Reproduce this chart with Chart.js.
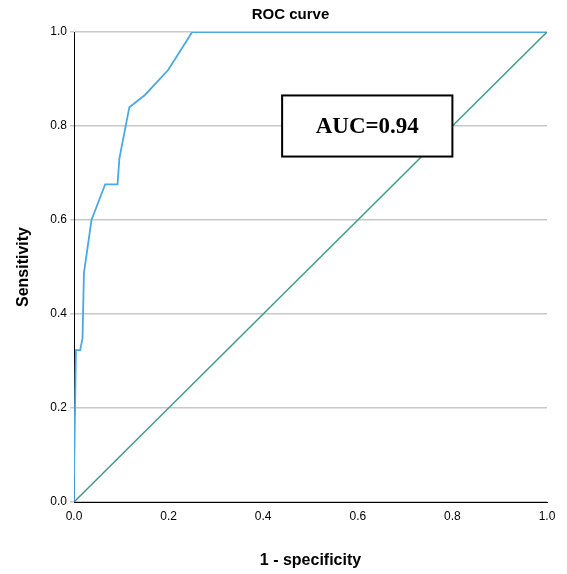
<!DOCTYPE html>
<html><head><meta charset="utf-8">
<script src="https://cdn.jsdelivr.net/npm/chart.js@4"></script>
<style>html,body{margin:0;padding:0;background:#fff}#w{width:567px;height:574px}</style>
</head><body><div id="w"><canvas id="c"></canvas></div>
<script>
const fpr = [0, 0, 0.004, 0.013, 0.018, 0.021, 0.037, 0.066, 0.092, 0.096, 0.117, 0.150, 0.199, 0.25, 1.0];
const tpr = [0, 0.05, 0.323, 0.323, 0.348, 0.487, 0.60, 0.676, 0.676, 0.731, 0.84, 0.866, 0.919, 1.0, 1.0];
const refX = [0, 1];
const refY = [0, 1];
const tickVals = [0, 0.2, 0.4, 0.6, 0.8, 1.0];
const aucLabel = "AUC=0.94";
const titleText = "ROC curve";

const overlay = {
  id: 'overlay',
  afterDraw(ch) {
    const c = ch.ctx, a = ch.chartArea;
    c.save();
    c.fillStyle = '#000';
    c.font = 'bold 15px "Liberation Sans", Arial, sans-serif';
    c.textAlign = 'center'; c.textBaseline = 'middle';
    c.fillText(titleText, (a.left + a.right) / 2 - 20, 15);
    const x = ch.scales.x, y = ch.scales.y;
    const x0 = x.getPixelForValue(0.44), x1 = x.getPixelForValue(0.80);
    const y0 = y.getPixelForValue(0.865), y1 = y.getPixelForValue(0.735);
    c.fillStyle = '#fff';
    c.fillRect(x0, y0, x1 - x0, y1 - y0);
    c.strokeStyle = '#000'; c.lineWidth = 2;
    c.strokeRect(x0, y0, x1 - x0, y1 - y0);
    c.fillStyle = '#000';
    c.font = 'bold 23px "Liberation Serif", "Times New Roman", serif';
    c.fillText(aucLabel, (x0 + x1) / 2, (y0 + y1) / 2 + 1);
    c.restore();
  }
};

new Chart(document.getElementById('c'), {
  type: 'scatter',
  data: {
    datasets: [
      { data: refX.map((v, i) => ({x: v, y: refY[i]})), showLine: true, borderColor: '#3f9a8c', borderWidth: 1.5, pointRadius: 0, tension: 0 },
      { data: fpr.map((v, i) => ({x: v, y: tpr[i]})), showLine: true, borderColor: '#4aa9e3', borderWidth: 1.8, pointRadius: 0, tension: 0 }
    ]
  },
  options: {
    responsive: true, maintainAspectRatio: false, animation: false,
    layout: { padding: { top: 32, right: 20, left: 10, bottom: 0 } },
    plugins: { legend: { display: false }, tooltip: { enabled: false } },
    scales: {
      x: {
        type: 'linear', min: 0, max: 1,
        afterBuildTicks: s => { s.ticks = tickVals.map(v => ({value: v})); },
        afterFit: s => { s.height = 72; },
        ticks: { color: '#000', font: { size: 12, family: 'Liberation Sans' }, callback: v => v.toFixed(1) },
        grid: { display: false, drawTicks: true, tickLength: 4 },
        border: { color: '#000', width: 1 },
        title: { display: true, text: '1 - specificity', color: '#000', font: { size: 16, weight: 'bold', family: 'Liberation Sans' }, padding: { top: 6 } }
      },
      y: {
        type: 'linear', min: 0, max: 1,
        afterBuildTicks: s => { s.ticks = tickVals.map(v => ({value: v})); },
        afterFit: s => { s.width = 64; },
        ticks: { color: '#000', font: { size: 12, family: 'Liberation Sans' }, callback: v => v.toFixed(1) },
        grid: { color: '#c8c8c8', lineWidth: 1.5, drawTicks: true, tickLength: 4 },
        border: { color: '#000', width: 1 },
        title: { display: true, text: 'Sensitivity', color: '#000', font: { size: 16, weight: 'bold', family: 'Liberation Sans' }, padding: { bottom: 4 } }
      }
    }
  },
  plugins: [overlay]
});
</script></body></html>
